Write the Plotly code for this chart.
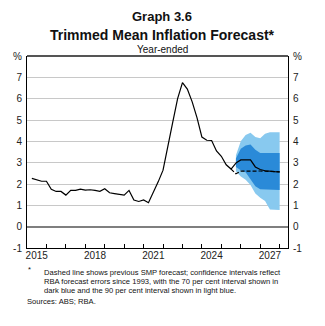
import plotly.graph_objects as go

# ---------------- data ----------------
actual_q = [f"{y}Q{n}" for y in range(2015, 2026) for n in range(1, 5)][:43]
actual = [2.26, 2.20, 2.13, 2.13,
          1.75, 1.65, 1.65, 1.48,
          1.70, 1.70, 1.76, 1.71,
          1.73, 1.70, 1.66, 1.78,
          1.59, 1.55, 1.51, 1.48,
          1.70, 1.25, 1.18, 1.25,
          1.12, 1.60, 2.10, 2.65,
          3.70, 4.90, 6.00, 6.75,
          6.45, 5.85, 5.10, 4.20,
          4.05, 4.04, 3.55, 3.30,
          2.90, 2.70, 2.98]

fc_q = ["2025Q3", "2025Q4", "2026Q1", "2026Q2", "2026Q3", "2026Q4",
        "2027Q1", "2027Q2", "2027Q3", "2027Q4"]
central = [2.98, 3.13, 3.13, 3.13, 2.80, 2.68, 2.62, 2.59, 2.58, 2.57]
light_hi = [3.35, 4.00, 4.30, 4.40, 4.20, 4.15, 4.35, 4.42, 4.42, 4.42]
light_lo = [2.60, 2.35, 2.20, 1.95, 1.55, 1.35, 1.20, 0.80, 0.78, 0.78]
dark_hi = [3.20, 3.65, 3.80, 3.85, 3.60, 3.45, 3.45, 3.45, 3.45, 3.45]
dark_lo = [2.80, 2.65, 2.55, 2.20, 1.90, 1.75, 1.72, 1.72, 1.72, 1.72]

prev_q = ["2025Q2"] + fc_q
previous = [2.70, 2.48, 2.60, 2.61, 2.62, 2.62, 2.61, 2.60, 2.59, 2.58, 2.57]

year_ticks = list(range(2015, 2029))
year_labels = ["2015", "2018", "2021", "2024", "2027"]
y_ticks = [-1, 0, 1, 2, 3, 4, 5, 6, 7, 8]
y_labels = ["-1", "0", "1", "2", "3", "4", "5", "6", "7", "%"]

footnote_lines = [
    "Dashed line shows previous SMP forecast; confidence intervals reflect",
    "RBA forecast errors since 1993, with the 70 per cent interval shown in",
    "dark blue and the 90 per cent interval shown in light blue.",
]
sources = "Sources: ABS; RBA."


def qpos(q):
    y, n = q.split("Q")
    return int(y) + int(n) / 4


ax = [qpos(q) for q in actual_q]
fx = [qpos(q) for q in fc_q]
px_ = [qpos(q) for q in prev_q]

LIGHT = "#88c9ef"
DARK = "#2a8ad8"
FONT = "Liberation Sans, Arial, sans-serif"
XR = [2015, 2028.43]
YR = [-1, 8]

fig = go.Figure()
fig.add_trace(go.Scatter(x=fx + fx[::-1], y=light_hi + light_lo[::-1], fill="toself",
                         fillcolor=LIGHT, line=dict(width=0), mode="lines",
                         hoverinfo="skip", showlegend=False))
fig.add_trace(go.Scatter(x=fx + fx[::-1], y=dark_hi + dark_lo[::-1], fill="toself",
                         fillcolor=DARK, line=dict(width=0), mode="lines",
                         hoverinfo="skip", showlegend=False))
fig.add_trace(go.Scatter(x=px_, y=previous, mode="lines",
                         line=dict(color="black", width=1.2, dash="4px,2px"),
                         showlegend=False))
fig.add_trace(go.Scatter(x=ax, y=actual, mode="lines",
                         line=dict(color="black", width=1.2), showlegend=False))
fig.add_trace(go.Scatter(x=fx, y=central, mode="lines",
                         line=dict(color="black", width=1.2), showlegend=False))
# helper trace so that secondary axes are drawn
fig.add_trace(go.Scatter(x=[XR[0]], y=[0], xaxis="x2", yaxis="y2", mode="markers",
                         marker=dict(opacity=0), hoverinfo="skip", showlegend=False))

tickfont = dict(family=FONT, size=10, color="#222")
note_font = dict(family=FONT, size=7.6, color="#111")


def py(pix):
    # figure pixel row -> paper y (plot area spans rows 56..248)
    return (248 - pix) / 192


annotations = [
    dict(text="<b>Graph 3.6</b>", xref="paper", yref="paper", x=0.519, y=py(16),
         xanchor="center", yanchor="middle", showarrow=False,
         font=dict(family=FONT, size=13, color="#111")),
    dict(text="<b>Trimmed Mean Inflation Forecast*</b>", xref="paper", yref="paper",
         x=0.519, y=py(35), xanchor="center", yanchor="middle", showarrow=False,
         font=dict(family=FONT, size=14, color="#111")),
    dict(text="Year-ended", xref="paper", yref="paper", x=0.519, y=py(49),
         xanchor="center", yanchor="middle", showarrow=False,
         font=dict(family=FONT, size=10, color="#111")),
    dict(text="*", xref="paper", yref="paper", x=-0.004, y=py(269),
         xanchor="left", yanchor="middle", showarrow=False, font=note_font),
    dict(text=sources, xref="paper", yref="paper", x=-0.006, y=py(301.5),
         xanchor="left", yanchor="middle", showarrow=False, font=note_font),
]
for i, line in enumerate(footnote_lines):
    annotations.append(dict(text=line, xref="paper", yref="paper", x=0.057,
                            y=py(272.3 + 9.2 * i), xanchor="left", yanchor="middle",
                            showarrow=False, font=note_font))

fig.update_layout(
    width=325, height=326,
    margin=dict(l=27, r=37, t=56, b=78),
    paper_bgcolor="white", plot_bgcolor="white",
    xaxis=dict(range=XR, tickmode="array", tickvals=year_ticks,
               ticktext=[""] * len(year_ticks), ticks="inside", ticklen=4,
               tickcolor="black", showgrid=False, zeroline=False,
               showline=True, linecolor="black", linewidth=1, mirror=False),
    xaxis2=dict(range=XR, overlaying="x", side="bottom", tickmode="array",
                tickvals=[int(v) + 0.5 for v in year_labels], ticktext=year_labels,
                ticks="", showgrid=False, zeroline=False, showline=False,
                tickfont=tickfont),
    yaxis=dict(range=YR, tickmode="array", tickvals=y_ticks, ticktext=y_labels,
               ticks="", showgrid=True, gridcolor="#c8c8c8", gridwidth=1,
               zeroline=True, zerolinecolor="#7f7f7f", zerolinewidth=2,
               showline=True, linecolor="black", linewidth=1, mirror=False,
               tickfont=tickfont, ticklabelstandoff=2),
    yaxis2=dict(range=YR, overlaying="y", side="right", tickmode="array",
                tickvals=y_ticks, ticktext=y_labels, ticks="", showgrid=False,
                zeroline=False, showline=True, linecolor="black", linewidth=1,
                tickfont=tickfont, ticklabelstandoff=2),
    shapes=[dict(type="line", xref="paper", yref="paper", x0=0, x1=1, y0=1, y1=1,
                 line=dict(color="#555", width=2))],
    annotations=annotations,
)

fig.write_html("out.html")
